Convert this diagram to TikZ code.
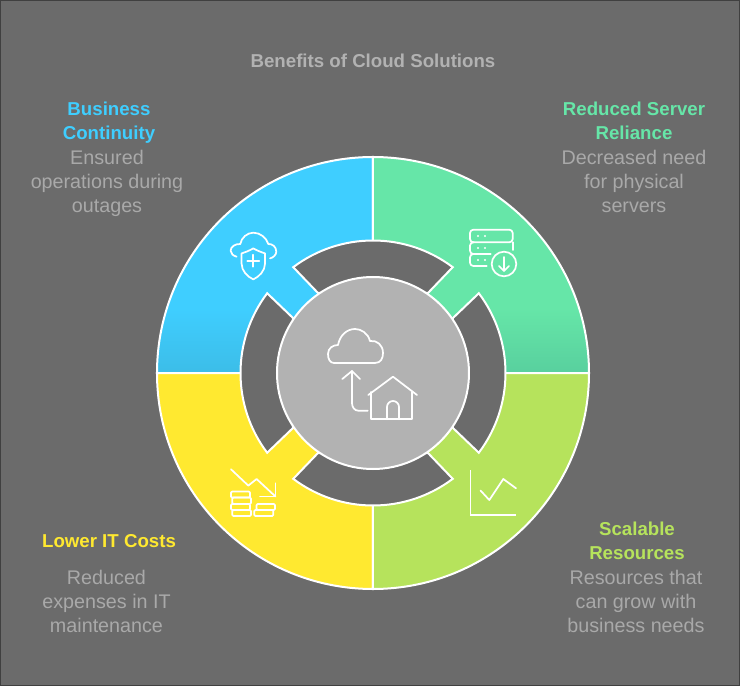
\documentclass[tikz,border=0pt]{standalone}
\usepackage{fontspec}
\setmainfont{Liberation Sans}
\definecolor{bgdark}{HTML}{6B6B6B}
\definecolor{hubgrey}{HTML}{B2B2B2}
\definecolor{textgrey}{HTML}{A9A9A9}
\definecolor{skyblue}{HTML}{3FCEFF}
\definecolor{skyblueb}{HTML}{3CBDE8}
\definecolor{mint}{HTML}{66E6A8}
\definecolor{mintb}{HTML}{58D09E}
\definecolor{sun}{HTML}{FFE930}
\definecolor{lime}{HTML}{B6E35C}
\pgfdeclareverticalshading{skyfade}{100bp}{color(0bp)=(skyblueb); color(25bp)=(skyblueb); color(40bp)=(skyblue); color(100bp)=(skyblue)}
\pgfdeclareverticalshading{mintfade}{100bp}{color(0bp)=(mintb); color(25bp)=(mintb); color(40bp)=(mint); color(100bp)=(mint)}
\tikzset{
  sector/.style={draw=white,line width=1.5pt},
  gapband/.style={draw=white,line width=1.5pt,fill=bgdark,line join=miter},
  icon/.style={draw=white,line width=1.3pt,line cap=round,line join=round},
  head/.style={font=\fontsize{14}{18}\selectfont\bfseries,align=center,inner sep=0pt},
  blurb/.style={font=\fontsize{14.8}{18}\selectfont,align=center,inner sep=0pt,text=textgrey},
}
\begin{document}
\begin{tikzpicture}[x=.75pt,y=.75pt,
hubicon/.pic={
\draw[icon](2,10)..controls(8,10)and(10,15)..(10,20)..controls(10,28)and(4,33)..(-3,32)..controls(-5,40)and(-12,44)..(-18,44)..controls(-26,44)and(-33,38)..(-35,28)..controls(-40,28)and(-45,25)..(-45,19)..controls(-45,14)and(-43,10)..(-39,10)--cycle;
\draw[icon](-21,2)--(-21,-30)to[out=-90,in=180](-14.7,-37.7)--(-5.3,-37.7);
\draw[icon](-30.7,-6)--(-21,2)--(-13,-6);
\draw[icon](-4.7,-22)--(20,-3.7)--(44,-22);
\draw[icon](-2,-19)--(-2,-46.3)--(39,-46.3)--(39,-19);
\draw[icon](14,-46.3)--(14,-34)arc[start angle=180,end angle=0,radius=6]--(26,-46.3);
},
shieldicon/.pic={
\draw[icon](-16.7,4)..controls(-20,5)and(-22.7,7)..(-22.7,10)..controls(-22.7,14)and(-18,17)..(-13,16.7)..controls(-12,23)and(-6,28)..(0,28)..controls(7,28)and(13,23)..(15,16.7)..controls(19,17)and(23,14)..(23,9)..controls(23,6)and(20,3)..(16.7,2.3);
\draw[icon](0,12.3)..controls(-4,10)and(-8,8.5)..(-11.7,7.3)--(-11.7,-3)..controls(-11.7,-10)and(-6,-16)..(0,-18.7)..controls(6,-16)and(11.7,-10)..(11.7,-3)--(11.7,7.3)..controls(8,8.5)and(4,10)..(0,12.3)--cycle;
\draw[icon](-6,0)--(6,0)(0,-6)--(0,6);
},
servericon/.pic={
\draw[icon,rounded corners=2.5pt](-34,28)|-(8.7,34.3)|-(-34,21.7)--cycle;
\draw[icon,rounded corners=2.5pt](8.7,21.7)--(8.7,14);
\draw[icon,rounded corners=2.5pt](-30,21.7)-|(-34,10)--(-13.3,10);
\draw[icon,rounded corners=2.5pt](-30,10)-|(-34,-2)--(-17.3,-2);
\draw[icon](0,0)circle(12.3);
\draw[icon](0,7)--(0,-7)(-5,-2)--(0,-7)--(5,-2);
\foreach\rowy in{28,16,4}{
\fill[white](-26,\rowy)circle(1.2)(-19,\rowy)circle(1.2);
}
},
coinicon/.pic={
\draw[icon](-22.3,24)--(-5,7.7)--(3.3,14.3)--(22.3,-3.3);
\draw[icon](22.3,10)--(22.3,-3.3)--(6.7,-3.3);
\draw[icon,rounded corners=.8pt](-22.3,1.7)rectangle(-3.3,-4.3);
\draw[icon,rounded corners=.8pt](-21,-4.3)rectangle(-2.3,-10.7);
\draw[icon,rounded corners=.8pt](-22.3,-10.7)rectangle(-3.3,-16.7);
\draw[icon,rounded corners=.8pt](-21,-16.7)rectangle(-2.3,-22.7);
\draw[icon,rounded corners=.8pt](3.3,-10.7)rectangle(21.7,-16.7);
\draw[icon,rounded corners=.8pt](1,-16.7)rectangle(20,-22.7);
},
charticon/.pic={
\draw[icon,line cap=butt,line join=miter](-22.7,23.3)--(-22.7,-21.7)--(22.7,-21.7);
\draw[icon](-12.7,2.7)--(-4,-6.7)--(10,14.3)--(22.7,5);
}]
\useasboundingbox(-373,-313)rectangle(367,373);
\draw[fill=bgdark,draw=black!75,line width=.75pt](-372.5,-312.5)rectangle(366.5,372.5);
% four quarters
\draw[sector,shade,shading=skyfade](0,0)--(90:216)arc[start angle=90,end angle=180,radius=216]--cycle;
\draw[sector,shade,shading=mintfade](0,0)--(0:216)arc[start angle=0,end angle=90,radius=216]--cycle;
\draw[sector,fill=sun](0,0)--(180:216)arc[start angle=180,end angle=270,radius=216]--cycle;
\draw[sector,fill=lime](0,0)--(270:216)arc[start angle=270,end angle=360,radius=216]--cycle;
% gaps round the hub
\foreach\a in{0,90,180,270}{
\draw[gapband,rotate=\a](53:132.5)arc[start angle=53,end angle=127,radius=132.5]--(-55,80)--(55,80)--cycle;
}
\node[circle,draw=white,line width=1.5pt,fill=hubgrey,minimum size=144pt,inner sep=0pt](hub)at(0,0){};
\pic at(0,0){hubicon};
\pic at(-119.7,112.3){shieldicon};
\pic at(131,109){servericon};
\pic at(-119.7,-120.3){coinicon};
\pic at(120.3,-120.3){charticon};
% texts
\node[font=\fontsize{14}{18}\selectfont\bfseries,text=hubgrey,inner sep=0pt](title)at(0,312){Benefits of Cloud Solutions};
\node[head,text=skyblue](bizhead)at(-264,250){Business\\Continuity};
\node[blurb](bizblurb)at(-266,190){Ensured\\operations during\\outages};
\node[head,text=mint](serverhead)at(261,252){Reduced Server\\Reliance};
\node[blurb](serverblurb)at(261,192){Decreased need\\for physical\\servers};
\node[head,text=sun](costhead)at(-264,-168){Lower IT Costs};
\node[blurb](costblurb)at(-266.5,-228){Reduced\\expenses in IT\\maintenance};
\node[head,text=lime](scalehead)at(264,-168){Scalable\\Resources};
\node[blurb](scaleblurb)at(263,-228){Resources that\\can grow with\\business needs};
\end{tikzpicture}
\end{document}
